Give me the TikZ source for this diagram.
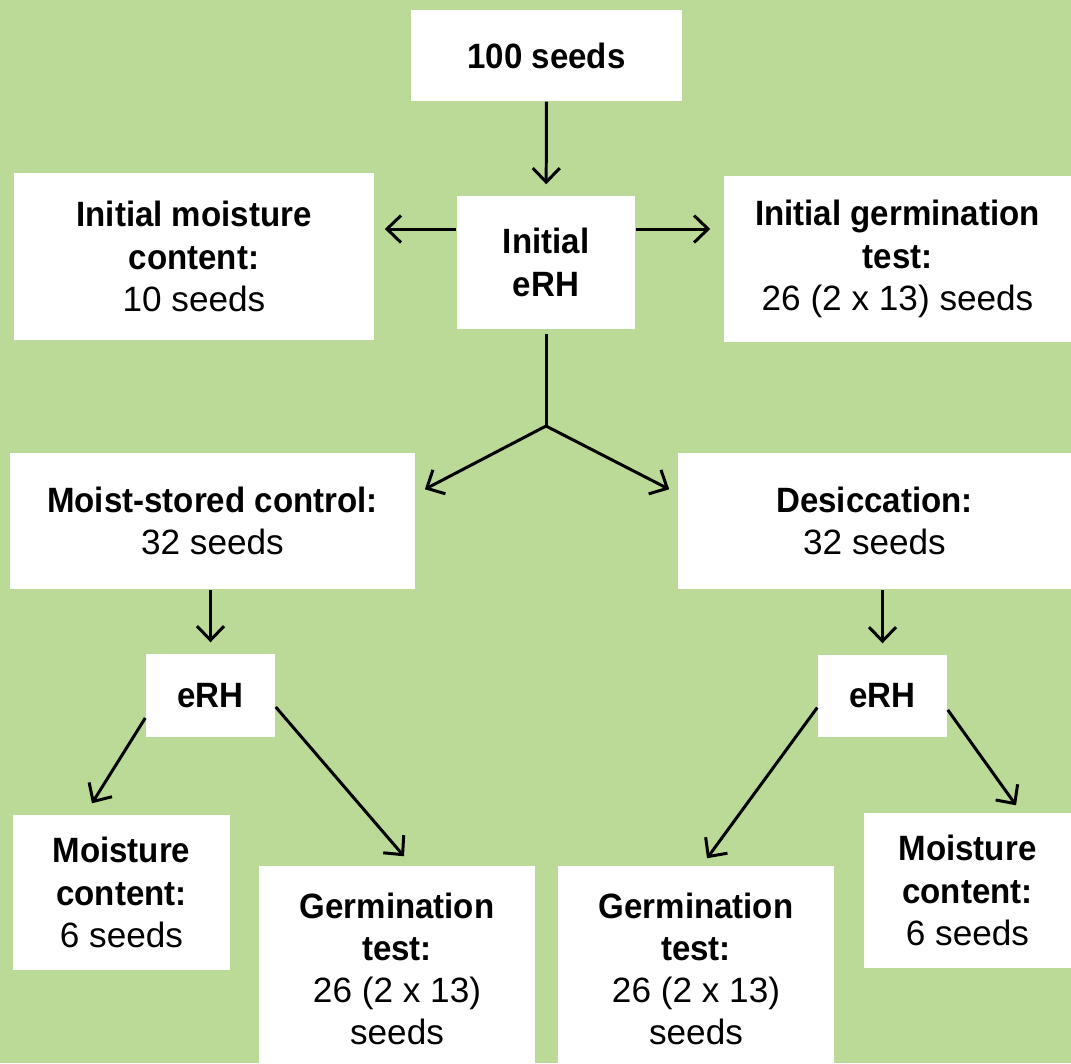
\documentclass[tikz,border=0pt]{standalone}
\usepackage{fontspec}
\setmainfont{Liberation Sans}[BoldFeatures={FakeStretch=0.94}]
\usetikzlibrary{arrows.meta,calc}
\definecolor{leaf}{RGB}{187,217,151}

\begin{document}
\begin{tikzpicture}[x=0.01cm,y=-0.01cm,
    box/.style={fill=white,inner sep=0pt,align=center,font=\fontsize{10}{12}\selectfont},
    arr/.style={line width=0.85pt,-{Straight Barb[length=0.14cm,width=0.27cm]}}]
    \fill[leaf] (0,0) rectangle (1071,1063);
    \useasboundingbox (0,0) rectangle (1071,1063);

    % top row
    \node[box,minimum width=2.71cm,minimum height=0.91cm] (seeds) at (546.5,55.5) {\textbf{100 seeds}};
    \node[box,minimum width=1.78cm,minimum height=1.33cm] (ini) at (546,262.5) {\textbf{Initial}\\\textbf{eRH}};
    \node[box,minimum width=3.60cm,minimum height=1.67cm] (imc) at (194,256.5) {\textbf{Initial moisture}\\\textbf{content:}\\10 seeds};
    \node[box,minimum width=3.47cm,minimum height=1.66cm] (igt) at (897.5,259) {\textbf{Initial germination}\\\textbf{test:}\\26 (2 x 13) seeds};

    % treatments
    \node[box,minimum width=4.05cm,minimum height=1.36cm] (msc) at (212.5,521) {\textbf{Moist-stored control:}\\32 seeds};
    \node[box,minimum width=3.93cm,minimum height=1.36cm] (des) at (874.5,521) {\textbf{Desiccation:}\\32 seeds};
    \node[box,minimum width=1.29cm,minimum height=0.83cm] (erhl) at (210.5,695.5) {\textbf{eRH}};
    \node[box,minimum width=1.29cm,minimum height=0.82cm] (erhr) at (882.5,696) {\textbf{eRH}};

    % bottom row
    \node[box,minimum width=2.17cm,minimum height=1.55cm] (mcl) at (121.5,892.5) {\textbf{Moisture}\\\textbf{content:}\\6 seeds};
    \node[box,minimum width=2.76cm,minimum height=2.06cm] (gtl) at (397,969) {\textbf{Germination}\\\textbf{test:}\\26 (2 x 13)\\seeds};
    \node[box,minimum width=2.76cm,minimum height=2.06cm] (gtr) at (696,969) {\textbf{Germination}\\\textbf{test:}\\26 (2 x 13)\\seeds};
    \node[box,minimum width=2.07cm,minimum height=1.55cm] (mcr) at (967.5,890.5) {\textbf{Moisture}\\\textbf{content:}\\6 seeds};

    \coordinate (row) at (0,229);
    \coordinate (split) at (546,426);
    \coordinate (tipl) at ($(msc.north east)+(9,37)$);
    \coordinate (tipr) at ($(des.north west)+(-8,37)$);

    \draw[arr,shorten >=0.11cm] (seeds) -- (ini);
    \draw[arr,shorten >=0.1cm] (ini.west |- row) -- (imc.east |- row);
    \draw[arr,shorten >=0.13cm] (ini.east |- row) -- (igt.west |- row);
    \draw[line width=0.85pt,shorten <=0.04cm] (ini) -- (split);
    \draw[arr] (split) -- (tipl);
    \draw[arr] (split) -- (tipr);

    \draw[arr,shorten >=0.11cm] (erhl.north |- msc.south) -- (erhl.north);
    \draw[arr,shorten >=0.11cm] (erhr.north |- des.south) -- (erhr.north);

    \draw[arr] (erhl.199) -- ($(mcl.north)+(-29.5,-11)$);
    \draw[arr] (erhl.-10) -- ($(gtl.north)+(7,-9)$);
    \draw[arr] (erhr.190) -- ($(gtr.north)+(11,-7)$);
    \draw[arr] (erhr.348) -- ($(mcr.north)+(48.5,-7)$);
\end{tikzpicture}
\end{document}
